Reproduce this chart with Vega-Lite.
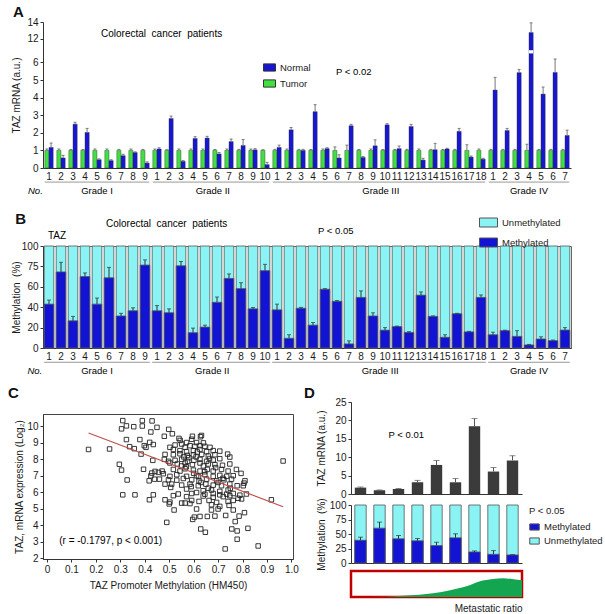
{
"$schema":"https://vega.github.io/schema/vega-lite/v6.json",
"background":"white",
"padding":{"left":8,"top":5,"right":5,"bottom":3},
"config":{"font":"Liberation Sans","view":{"stroke":null},
 "axis":{"grid":false,"labelOverlap":false,"labelFlush":false,"labelColor":"#1a1a1a","titleColor":"#1a1a1a","domainColor":"#333","tickColor":"#333","labelFontSize":10,"titleFontSize":10,"titleFontWeight":"normal"},
 "title":{"fontSize":15,"fontWeight":"bold","anchor":"start","frame":"bounds","color":"#111"},
 "legend":{"labelColor":"#1a1a1a","titleColor":"#1a1a1a"}},
"datasets":{
 "pa":[
  {"id":"01-1","tv":1,"th":1.08,"nv":1.17,"nh":1.42},{"id":"02-2","tv":1,"th":1.08,"nv":0.57,"nh":0.72},{"id":"03-3","tv":1,"th":1.05,"nv":2.49,"nh":2.6},{"id":"04-4","tv":1,"th":1.05,"nv":2.02,"nh":2.25},{"id":"05-5","tv":1,"th":1.08,"nv":0.47,"nh":0.52},{"id":"06-6","tv":1,"th":1.08,"nv":0.42,"nh":0.47},{"id":"07-7","tv":1,"th":1.06,"nv":0.7,"nh":0.78},{"id":"08-8","tv":1,"th":1.08,"nv":0.88,"nh":0.92},{"id":"09-9","tv":1,"th":1.06,"nv":0.28,"nh":0.35},
  {"id":"10-1","tv":1,"th":1.08,"nv":1.08,"nh":1.15},{"id":"11-2","tv":1,"th":1.04,"nv":2.81,"nh":2.95},{"id":"12-3","tv":1,"th":1.08,"nv":0.38,"nh":0.42},{"id":"13-4","tv":1,"th":1.08,"nv":1.68,"nh":1.78},{"id":"14-5","tv":1,"th":1.08,"nv":1.7,"nh":1.8},{"id":"15-6","tv":1,"th":1.05,"nv":0.8,"nh":0.88},{"id":"16-7","tv":1,"th":1.08,"nv":1.5,"nh":1.65},{"id":"17-8","tv":1,"th":1.06,"nv":1.28,"nh":1.62},{"id":"18-9","tv":1,"th":1.08,"nv":1.03,"nh":1.1},{"id":"19-10","tv":1,"th":1.04,"nv":0.19,"nh":0.32},
  {"id":"20-1","tv":1,"th":1.06,"nv":1.17,"nh":1.3},{"id":"21-2","tv":1,"th":1.08,"nv":2.17,"nh":2.3},{"id":"22-3","tv":1,"th":1.06,"nv":1.0,"nh":1.06},{"id":"23-4","tv":1,"th":1.05,"nv":3.2,"nh":3.6},{"id":"24-5","tv":1,"th":1.08,"nv":1.1,"nh":1.15},{"id":"25-6","tv":1,"th":1.2,"nv":0.57,"nh":0.75},{"id":"26-7","tv":1,"th":1.3,"nv":2.4,"nh":2.48},{"id":"27-8","tv":1,"th":1.05,"nv":0.6,"nh":0.65},{"id":"28-9","tv":1,"th":1.08,"nv":1.26,"nh":1.6},{"id":"29-10","tv":1,"th":1.05,"nv":2.45,"nh":2.52},{"id":"30-11","tv":1,"th":1.05,"nv":1.1,"nh":1.25},{"id":"31-12","tv":1,"th":1.06,"nv":2.36,"nh":2.48},{"id":"32-13","tv":1,"th":1.08,"nv":0.45,"nh":0.55},{"id":"33-14","tv":1,"th":1.06,"nv":1.04,"nh":1.4},{"id":"34-15","tv":1,"th":1.05,"nv":1.08,"nh":1.12},{"id":"35-16","tv":1,"th":1.06,"nv":2.08,"nh":2.25},{"id":"36-17","tv":1,"th":1.32,"nv":0.62,"nh":0.68},{"id":"37-18","tv":1,"th":1.08,"nv":0.5,"nh":0.55},
  {"id":"38-1","tv":1,"th":1.06,"nv":4.43,"nh":5.15},{"id":"39-2","tv":1,"th":1.06,"nv":2.13,"nh":2.25},{"id":"40-3","tv":1,"th":1.06,"nv":5.42,"nh":5.6},{"id":"41-4","tv":1,"th":1.35,"nv":12.75,"nh":13.9},{"id":"42-5","tv":1,"th":1.05,"nv":4.2,"nh":4.6},{"id":"43-6","tv":1,"th":1.06,"nv":5.43,"nh":6.2},{"id":"44-7","tv":1,"th":1.06,"nv":1.85,"nh":2.15}
 ],
 "pb":[
  {"id":"01-1","m":43,"mh":47},{"id":"02-2","m":74.6,"mh":84},{"id":"03-3","m":26.6,"mh":31},{"id":"04-4","m":70,"mh":73.6},{"id":"05-5","m":43,"mh":49},{"id":"06-6","m":68.8,"mh":79},{"id":"07-7","m":31.4,"mh":34},{"id":"08-8","m":36.5,"mh":39.4},{"id":"09-9","m":81.3,"mh":86.4},
  {"id":"10-1","m":36.5,"mh":41.6},{"id":"11-2","m":34.6,"mh":38.4},{"id":"12-3","m":80.6,"mh":84.8},{"id":"13-4","m":15,"mh":19.5},{"id":"14-5","m":20.5,"mh":22.4},{"id":"15-6","m":44.8,"mh":50},{"id":"16-7","m":68.2,"mh":72.6},{"id":"17-8","m":58.2,"mh":64},{"id":"18-9","m":38.4,"mh":39.7},{"id":"19-10","m":75.8,"mh":82},
  {"id":"20-1","m":37.4,"mh":43},{"id":"21-2","m":9.5,"mh":13},{"id":"22-3","m":39,"mh":39.8},{"id":"23-4","m":22.4,"mh":25},{"id":"24-5","m":57.6,"mh":58.2},{"id":"25-6","m":45.8,"mh":46.5},{"id":"26-7","m":4,"mh":7},{"id":"27-8","m":49.6,"mh":56},{"id":"28-9","m":31.4,"mh":34.5},{"id":"29-10","m":17.5,"mh":20},{"id":"30-11","m":21,"mh":21.5},{"id":"31-12","m":15.3,"mh":16},{"id":"32-13","m":51.8,"mh":55},{"id":"33-14","m":31,"mh":31.5},{"id":"34-15","m":10.5,"mh":13},{"id":"35-16","m":33.6,"mh":34},{"id":"36-17","m":15.8,"mh":16.3},{"id":"37-18","m":49.6,"mh":52},
  {"id":"38-1","m":13,"mh":15.5},{"id":"39-2","m":17,"mh":17.5},{"id":"40-3","m":11.4,"mh":17},{"id":"41-4","m":3,"mh":3.5},{"id":"42-5","m":8.8,"mh":11},{"id":"43-6","m":7.2,"mh":7.8},{"id":"44-7","m":17.6,"mh":20}
 ],
 "ga":[
  {"g":"Grade I","first":"01-1","last":"09-9","mid":"05-5","odd":1},
  {"g":"Grade II","first":"10-1","last":"19-10","mid":"15-6","odd":0},
  {"g":"Grade III","first":"20-1","last":"37-18","mid":"29-10","odd":0},
  {"g":"Grade IV","first":"38-1","last":"44-7","mid":"41-4","odd":1}
 ],
 "pc":[
  {"x":0.31,"y":10.35},{"x":0.39,"y":10.35},{"x":0.43,"y":10.33},{"x":0.325,"y":10.03},{"x":0.355,"y":9.98},{"x":0.39,"y":10.02},{"x":0.45,"y":9.94},{"x":0.305,"y":9.85},{"x":0.498,"y":9.82},{"x":0.513,"y":9.55},{"x":0.425,"y":9.66},{"x":0.48,"y":9.4},{"x":0.54,"y":9.27},{"x":0.632,"y":9.45},{"x":0.628,"y":9.37},{"x":0.595,"y":9.4},{"x":0.325,"y":9.2},{"x":0.38,"y":9.2},{"x":0.42,"y":9.03},{"x":0.435,"y":8.9},{"x":0.545,"y":9.15},{"x":0.551,"y":8.93},{"x":0.571,"y":9.02},{"x":0.592,"y":9.22},{"x":0.612,"y":9.02},{"x":0.64,"y":9.0},
  {"x":0.338,"y":8.77},{"x":0.357,"y":8.65},{"x":0.398,"y":8.83},{"x":0.405,"y":8.73},{"x":0.503,"y":8.73},{"x":0.524,"y":8.87},{"x":0.565,"y":8.73},{"x":0.585,"y":8.83},{"x":0.605,"y":8.79},{"x":0.626,"y":8.83},{"x":0.646,"y":8.79},{"x":0.667,"y":8.73},
  {"x":0.17,"y":8.6},{"x":0.256,"y":8.63},{"x":0.517,"y":8.6},{"x":0.544,"y":8.53},{"x":0.571,"y":8.47},{"x":0.599,"y":8.53},{"x":0.626,"y":8.6},{"x":0.653,"y":8.47},{"x":0.68,"y":8.53},{"x":0.707,"y":8.5},
  {"x":0.385,"y":8.32},{"x":0.483,"y":8.3},{"x":0.517,"y":8.28},{"x":0.544,"y":8.34},{"x":0.574,"y":8.24},{"x":0.599,"y":8.28},{"x":0.633,"y":8.3},{"x":0.66,"y":8.2},{"x":0.687,"y":8.28},{"x":0.739,"y":8.32},
  {"x":0.433,"y":7.94},{"x":0.48,"y":8.0},{"x":0.497,"y":7.88},{"x":0.524,"y":7.94},{"x":0.551,"y":8.0},{"x":0.575,"y":7.88},{"x":0.601,"y":7.94},{"x":0.626,"y":8.0},{"x":0.653,"y":7.88},{"x":0.68,"y":7.96},{"x":0.707,"y":8.04},{"x":0.748,"y":8.14},{"x":0.966,"y":7.9},
  {"x":0.296,"y":7.7},{"x":0.503,"y":7.78},{"x":0.533,"y":7.72},{"x":0.565,"y":7.78},{"x":0.595,"y":7.68},{"x":0.626,"y":7.78},{"x":0.66,"y":7.72},{"x":0.687,"y":7.68},{"x":0.718,"y":7.64},{"x":0.748,"y":7.72},
  {"x":0.305,"y":7.35},{"x":0.395,"y":7.4},{"x":0.471,"y":7.29},{"x":0.517,"y":7.39},{"x":0.544,"y":7.29},{"x":0.565,"y":7.43},{"x":0.599,"y":7.35},{"x":0.626,"y":7.29},{"x":0.656,"y":7.39},{"x":0.68,"y":7.29},{"x":0.714,"y":7.39},{"x":0.741,"y":7.29},{"x":0.775,"y":7.39},
  {"x":0.429,"y":7.17},{"x":0.442,"y":7.27},{"x":0.456,"y":7.21},{"x":0.476,"y":7.13},{"x":0.503,"y":6.97},{"x":0.531,"y":7.07},{"x":0.571,"y":6.97},{"x":0.612,"y":7.01},{"x":0.646,"y":7.07},{"x":0.68,"y":6.97},{"x":0.707,"y":7.03},{"x":0.735,"y":6.97},{"x":0.762,"y":7.01},{"x":0.794,"y":7.15},
  {"x":0.328,"y":6.75},{"x":0.425,"y":7.0},{"x":0.44,"y":6.8},{"x":0.46,"y":6.8},{"x":0.497,"y":6.76},{"x":0.531,"y":6.74},{"x":0.558,"y":6.84},{"x":0.592,"y":6.76},{"x":0.622,"y":6.7},{"x":0.653,"y":6.8},{"x":0.694,"y":6.7},{"x":0.724,"y":6.76},{"x":0.755,"y":6.8},{"x":0.81,"y":6.7},
  {"x":0.418,"y":6.7},{"x":0.483,"y":6.5},{"x":0.51,"y":6.5},{"x":0.551,"y":6.44},{"x":0.585,"y":6.5},{"x":0.619,"y":6.4},{"x":0.65,"y":6.5},{"x":0.68,"y":6.44},{"x":0.714,"y":6.4},{"x":0.748,"y":6.5},{"x":0.778,"y":6.4},{"x":0.806,"y":6.56},
  {"x":0.506,"y":6.3},{"x":0.571,"y":6.2},{"x":0.639,"y":6.1},{"x":0.673,"y":6.14},{"x":0.707,"y":6.06},{"x":0.741,"y":6.14},{"x":0.803,"y":6.4},
  {"x":0.592,"y":5.93},{"x":0.612,"y":5.99},{"x":0.646,"y":5.89},{"x":0.68,"y":5.93},{"x":0.707,"y":5.85},{"x":0.735,"y":5.89},{"x":0.762,"y":5.93},{"x":0.789,"y":5.83},
  {"x":0.31,"y":5.85},{"x":0.36,"y":5.85},{"x":0.419,"y":5.55},{"x":0.435,"y":5.85},{"x":0.517,"y":5.8},{"x":0.537,"y":5.9},{"x":0.571,"y":5.74},{"x":0.639,"y":5.78},{"x":0.68,"y":5.7},{"x":0.721,"y":5.74},{"x":0.748,"y":5.8},{"x":0.782,"y":5.64},{"x":0.816,"y":5.9},
  {"x":0.483,"y":5.55},{"x":0.503,"y":5.41},{"x":0.551,"y":5.35},{"x":0.565,"y":5.35},{"x":0.592,"y":5.51},{"x":0.622,"y":5.45},{"x":0.663,"y":5.51},{"x":0.694,"y":5.39},{"x":0.741,"y":5.45},{"x":0.762,"y":5.51},{"x":0.796,"y":5.6},{"x":0.918,"y":5.55},
  {"x":0.5,"y":5.3},{"x":0.585,"y":5.32},{"x":0.673,"y":5.25},{"x":0.707,"y":5.15},{"x":0.745,"y":5.21},
  {"x":0.52,"y":4.93},{"x":0.612,"y":4.99},{"x":0.673,"y":4.93},{"x":0.7,"y":4.99},{"x":0.762,"y":4.93},
  {"x":0.603,"y":4.5},{"x":0.626,"y":4.54},{"x":0.656,"y":4.54},{"x":0.687,"y":4.56},{"x":0.731,"y":4.6},{"x":0.786,"y":4.56},{"x":0.808,"y":4.77},
  {"x":0.596,"y":4.36},{"x":0.49,"y":4.18},{"x":0.77,"y":4.23},
  {"x":0.629,"y":3.78},{"x":0.756,"y":3.78},{"x":0.822,"y":3.82},{"x":0.648,"y":3.58},{"x":0.778,"y":3.66},{"x":0.778,"y":3.16},{"x":0.729,"y":2.57},{"x":0.864,"y":2.75},
  {"x":0.58,"y":8.1},{"x":0.61,"y":8.15},{"x":0.64,"y":7.6},{"x":0.57,"y":7.55},{"x":0.6,"y":7.15},{"x":0.63,"y":6.6},{"x":0.66,"y":6.25},{"x":0.69,"y":7.5},{"x":0.72,"y":6.85},{"x":0.55,"y":7.6},{"x":0.62,"y":6.95},{"x":0.665,"y":8.05},{"x":0.59,"y":6.35},{"x":0.7,"y":6.6},{"x":0.75,"y":6.25},{"x":0.56,"y":8.15},{"x":0.615,"y":8.45},{"x":0.645,"y":7.25}
 ],
 "fit":[{"x":0.17,"y":9.6},{"x":0.966,"y":5.13}],
 "pd":[
  {"k":1,"e":1.73,"eh":1.9,"m":39.3,"mh":44.5},{"k":2,"e":1.0,"eh":1.1,"m":60.1,"mh":70.5},{"k":3,"e":1.36,"eh":1.5,"m":41.6,"mh":47.4},{"k":4,"e":3.18,"eh":3.7,"m":38.2,"mh":42.2},{"k":5,"e":7.9,"eh":9.1,"m":30,"mh":35.8},{"k":6,"e":3.18,"eh":4.2,"m":43.4,"mh":50.3},{"k":7,"e":18.4,"eh":20.5,"m":19,"mh":20.8},{"k":8,"e":6.1,"eh":7.2,"m":15,"mh":21.4},{"k":9,"e":9.1,"eh":10.4,"m":13.9,"mh":14.5}
 ],
 "ar":[{"r":0,"h":0},{"r":0.2,"h":0.01},{"r":0.3,"h":0.05},{"r":0.4,"h":0.09},{"r":0.48,"h":0.14},{"r":0.58,"h":0.26},{"r":0.68,"h":0.42},{"r":0.75,"h":0.6},{"r":0.83,"h":0.69},{"r":0.89,"h":0.72},{"r":0.95,"h":0.68},{"r":1.0,"h":0.64}]
},
"spacing":10,
"resolve":{"scale":{"color":"independent"},"legend":{"color":"independent"}},
"vconcat":[
 {"spacing":15,"resolve":{"scale":{"color":"independent"},"legend":{"color":"independent"}},
  "vconcat":[
   {"title":{"text":"A","offset":-3,"dx":1},
    "width":528,"height":146,
    "data":{"name":"pa"},
    "encoding":{"x":{"field":"id","type":"nominal","title":null,"scale":{"paddingInner":0.3,"paddingOuter":0.15},"axis":{"labelExpr":"split(datum.value,'-')[1]","labelAngle":0,"ticks":false,"labelPadding":3,"labelFontSize":10,"labelOverlap":false}}},
    "layer":[
     {"mark":{"type":"bar","stroke":"#333","strokeWidth":0.4},"encoding":{"xOffset":{"datum":"Tumor","scale":{"domain":["Tumor","Normal"]}},"y":{"field":"tv","type":"quantitative","title":"TAZ mRNA (a.u.)","scale":{"domain":[0,6.5,10.28,14],"range":[146,31.6,31.6,0],"zero":false,"nice":false},"axis":{"values":[0,1,2,3,4,5,6,12,14],"format":"d","tickCount":50,"labelOverlap":false,"tickSize":3,"labelPadding":2,"titlePadding":5}},"color":{"datum":"Tumor","scale":{"domain":["Normal","Tumor"],"range":["#1616d4","#3fe03f"]},"legend":{"orient":"none","legendX":220,"legendY":39,"title":null,"symbolType":"M-1,-0.6H1V0.6H-1Z","symbolSize":144,"symbolStrokeColor":"#222","symbolStrokeWidth":1,"labelFontSize":9.5,"rowPadding":3}}}},
     {"mark":{"type":"bar","stroke":"#333","strokeWidth":0.4},"encoding":{"xOffset":{"datum":"Normal"},"y":{"field":"nv","type":"quantitative","title":"TAZ mRNA (a.u.)"},"color":{"datum":"Normal"}}},
     {"mark":{"type":"rule","color":"#777"},"encoding":{"xOffset":{"datum":"Tumor"},"y":{"field":"tv","type":"quantitative","title":"TAZ mRNA (a.u.)"},"y2":{"field":"th"}}},
     {"mark":{"type":"rule","color":"#777"},"encoding":{"xOffset":{"datum":"Normal"},"y":{"field":"nv","type":"quantitative","title":"TAZ mRNA (a.u.)"},"y2":{"field":"nh"}}},
     {"mark":{"type":"tick","color":"#555","size":3,"thickness":1},"encoding":{"xOffset":{"datum":"Tumor"},"y":{"field":"th","type":"quantitative","title":"TAZ mRNA (a.u.)"}}},
     {"mark":{"type":"tick","color":"#555","size":3,"thickness":1},"encoding":{"xOffset":{"datum":"Normal"},"y":{"field":"nh","type":"quantitative","title":"TAZ mRNA (a.u.)"}}},
     {"data":{"values":[{}]},"mark":{"type":"bar","color":"white"},"encoding":{"x":{"datum":"41-4"},"xOffset":{"datum":"Normal"},"y":{"datum":10.3},"y2":{"datum":10.68}}},
     {"data":{"values":[{}]},"mark":{"type":"text","align":"left","baseline":"middle","fontSize":10,"dx":-8},"encoding":{"x":{"datum":"06-6"},"y":{"datum":12.6},"text":{"value":"Colorectal\u00a0 cancer\u00a0 patients"}}},
     {"data":{"values":[{}]},"mark":{"type":"text","align":"left","baseline":"middle","fontSize":9.5,"dx":-1},"encoding":{"x":{"datum":"25-6"},"y":{"datum":5.45},"text":{"value":"P < 0.02"}}},
     {"data":{"name":"ga"},"mark":{"type":"rule","color":"#999","strokeWidth":1},"encoding":{"x":{"field":"first","type":"nominal","bandPosition":0,"title":null},"x2":{"field":"last","bandPosition":1},"y":{"datum":-0.8}}},
     {"data":{"name":"ga"},"transform":[{"filter":"datum.odd==1"}],"mark":{"type":"text","fontSize":9.5,"baseline":"middle"},"encoding":{"x":{"field":"mid","type":"nominal","title":null},"y":{"datum":-1.3},"text":{"field":"g"}}},
     {"data":{"name":"ga"},"transform":[{"filter":"datum.odd==0"}],"mark":{"type":"text","fontSize":9.5,"baseline":"middle"},"encoding":{"x":{"field":"mid","type":"nominal","bandPosition":0,"title":null},"y":{"datum":-1.3},"text":{"field":"g"}}},
     {"data":{"values":[{}]},"mark":{"type":"text","fontSize":9.5,"fontStyle":"italic","align":"right","baseline":"middle","dx":-2},"encoding":{"x":{"datum":"01-1","bandPosition":0},"y":{"datum":-1.3},"text":{"value":"No."}}}
    ]},
   {"title":{"text":"B","offset":-14,"dx":4},
    "width":528,"height":102,
    "view":{"stroke":"#666"},
    "data":{"name":"pb"},
    "encoding":{"x":{"field":"id","type":"nominal","title":null,"scale":{"paddingInner":0.2,"paddingOuter":0.1},"axis":{"labelExpr":"split(datum.value,'-')[1]","labelAngle":0,"ticks":false,"labelPadding":3,"labelFontSize":10,"labelOverlap":false}}},
    "layer":[
     {"mark":{"type":"bar","stroke":"#555","strokeWidth":0.8},"encoding":{"y":{"datum":100,"type":"quantitative","title":"Methylation\u00a0 (%)","scale":{"domain":[0,100],"nice":false},"axis":{"values":[0,20,40,60,80,100],"format":"d","tickCount":50,"labelOverlap":false,"labelExpr":"datum.value==80?'75':datum.label","tickSize":3,"labelPadding":2,"titlePadding":0}},"color":{"datum":"Unmethylated","scale":{"domain":["Unmethylated","Methylated"],"range":["#8af3f3","#1313d3"]},"legend":{"orient":"none","legendX":436,"legendY":-33,"title":null,"symbolType":"M-1,-0.5H1V0.5H-1Z","symbolSize":324,"symbolStrokeColor":"#222","symbolStrokeWidth":1,"labelFontSize":9.5,"rowPadding":4}}}},
     {"mark":{"type":"bar","stroke":"#555","strokeWidth":0.8},"encoding":{"y":{"field":"m","type":"quantitative","title":"Methylation\u00a0 (%)"},"color":{"datum":"Methylated"}}},
     {"mark":{"type":"rule","color":"#333"},"encoding":{"y":{"field":"m","type":"quantitative","title":"Methylation\u00a0 (%)"},"y2":{"field":"mh"}}},
     {"mark":{"type":"tick","color":"#333","size":4,"thickness":1},"encoding":{"y":{"field":"mh","type":"quantitative","title":"Methylation\u00a0 (%)"}}},
     {"data":{"values":[{}]},"mark":{"type":"text","align":"left","baseline":"middle","fontSize":10,"dx":-3},"encoding":{"x":{"datum":"06-6"},"y":{"datum":121.6},"text":{"value":"Colorectal\u00a0 cancer\u00a0 patients"}}},
     {"data":{"values":[{}]},"mark":{"type":"text","align":"left","baseline":"middle","fontSize":10,"dx":-1},"encoding":{"x":{"datum":"01-1"},"y":{"datum":109.8},"text":{"value":"TAZ"}}},
     {"data":{"values":[{}]},"mark":{"type":"text","align":"left","baseline":"middle","fontSize":9.5,"dx":5},"encoding":{"x":{"datum":"23-4"},"y":{"datum":114.7},"text":{"value":"P < 0.05"}}},
     {"data":{"name":"ga"},"mark":{"type":"rule","color":"#999","strokeWidth":1},"encoding":{"x":{"field":"first","type":"nominal","bandPosition":0,"title":null},"x2":{"field":"last","bandPosition":1},"y":{"datum":-14}}},
     {"data":{"name":"ga"},"transform":[{"filter":"datum.odd==1"}],"mark":{"type":"text","fontSize":9.5,"baseline":"middle"},"encoding":{"x":{"field":"mid","type":"nominal","title":null},"y":{"datum":-22.5},"text":{"field":"g"}}},
     {"data":{"name":"ga"},"transform":[{"filter":"datum.odd==0"}],"mark":{"type":"text","fontSize":9.5,"baseline":"middle"},"encoding":{"x":{"field":"mid","type":"nominal","bandPosition":0,"title":null},"y":{"datum":-22.5},"text":{"field":"g"}}},
     {"data":{"values":[{}]},"mark":{"type":"text","fontSize":9.5,"fontStyle":"italic","align":"right","baseline":"middle","dx":-2},"encoding":{"x":{"datum":"01-1","bandPosition":0},"y":{"datum":-22.5},"text":{"value":"No."}}}
    ]}
  ]},
 {"spacing":4,"resolve":{"scale":{"color":"independent"},"legend":{"color":"independent"}},
  "hconcat":[
   {"spacing":10,
    "vconcat":[
    {"title":{"text":"C","offset":1,"dx":-35},"width":1,"height":1,"data":{"values":[]},"mark":"point"},
    {"width":250,"height":145,
     "view":{"stroke":"#444"},
     "layer":[
      {"data":{"name":"pc"},"mark":{"type":"point","shape":"square","filled":false,"size":20,"color":"#222","strokeWidth":0.9,"opacity":1},
       "encoding":{"x":{"field":"x","type":"quantitative","title":"TAZ Promoter Methylation (HM450)","scale":{"domain":[-0.0163,1.0065],"nice":false,"zero":false},"axis":{"values":[0,0.1,0.2,0.3,0.4,0.5,0.6,0.7,0.8,0.9,1],"tickCount":50,"labelOverlap":false,"labelExpr":"datum.value==0?'0':format(datum.value,'.1f')","tickSize":3,"labelPadding":2,"titlePadding":6}},
        "y":{"field":"y","type":"quantitative","title":"TAZ, mRNA expression (Log\u2082)","scale":{"domain":[1.96,10.75],"nice":false,"zero":false},"axis":{"values":[2,3,4,5,6,7,8,9,10],"format":"d","tickCount":50,"labelOverlap":false,"tickSize":3,"labelPadding":2,"titlePadding":2}}}},
      {"data":{"name":"fit"},"mark":{"type":"line","color":"#c0504d","strokeWidth":1.2},"encoding":{"x":{"field":"x","type":"quantitative","title":"TAZ Promoter Methylation (HM450)"},"y":{"field":"y","type":"quantitative","title":"TAZ, mRNA expression (Log\u2082)"}}},
      {"data":{"values":[{}]},"mark":{"type":"text","align":"left","baseline":"middle","fontSize":10},"encoding":{"x":{"datum":0.05},"y":{"datum":3.07},"text":{"value":"(r = -0.1797, p < 0.001)"}}}
     ]}
   ]},
   {"spacing":-2,"resolve":{"scale":{"color":"independent"},"legend":{"color":"independent"}},
    "vconcat":[
     {"title":{"text":"D","offset":-4,"dx":-13},
      "width":171,"height":92,
      "data":{"name":"pd"},
      "encoding":{"x":{"field":"k","type":"ordinal","title":null,"scale":{"paddingInner":0.4,"paddingOuter":0.2},"axis":{"labels":false,"ticks":false,"title":null}}},
      "layer":[
       {"mark":{"type":"bar","color":"#3b3b3b"},"encoding":{"y":{"field":"e","type":"quantitative","title":"TAZ mRNA (a.u.)","scale":{"domain":[0,25],"nice":false},"axis":{"values":[0,5,10,15,20,25],"format":"d","tickCount":50,"labelOverlap":false,"tickSize":3,"labelPadding":2,"titlePadding":8}}}},
       {"mark":{"type":"rule","color":"#555"},"encoding":{"y":{"field":"e","type":"quantitative","title":"TAZ mRNA (a.u.)"},"y2":{"field":"eh"}}},
       {"mark":{"type":"tick","color":"#555","size":6,"thickness":1},"encoding":{"y":{"field":"eh","type":"quantitative","title":"TAZ mRNA (a.u.)"}}},
       {"data":{"values":[{}]},"mark":{"type":"text","align":"left","baseline":"middle","fontSize":9.5,"dx":-10},"encoding":{"x":{"datum":3,"type":"ordinal"},"y":{"datum":16},"text":{"value":"P < 0.01"}}}
      ]},
     {"spacing":-10,
      "vconcat":[
      {"width":171,"height":58,
       "data":{"name":"pd"},
       "encoding":{"x":{"field":"k","type":"ordinal","title":null,"scale":{"paddingInner":0.4,"paddingOuter":0.2},"axis":{"labels":false,"ticks":false,"title":null}}},
       "layer":[
        {"mark":{"type":"bar","stroke":"#555","strokeWidth":0.8},"encoding":{"y":{"datum":100,"type":"quantitative","title":"Methylation\u00a0 (%)","scale":{"domain":[0,100],"nice":false},"axis":{"values":[0,25,50,75,100],"format":"d","tickCount":50,"labelOverlap":false,"tickSize":3,"labelPadding":2,"titlePadding":3}},"color":{"datum":"Unmethylated","scale":{"domain":["Methylated","Unmethylated"],"range":["#1313d3","#8af3f3"]},"legend":{"orient":"none","legendX":178,"legendY":1,"title":"P < 0.05","titleFontSize":9.5,"titleFontWeight":"normal","titlePadding":6,"symbolType":"M-1,-0.65H1V0.65H-1Z","symbolSize":90,"symbolStrokeColor":"#222","symbolStrokeWidth":1,"labelFontSize":9.5,"rowPadding":3}}}},
        {"mark":{"type":"bar","stroke":"#555","strokeWidth":0.8},"encoding":{"y":{"field":"m","type":"quantitative","title":"Methylation\u00a0 (%)"},"color":{"datum":"Methylated"}}},
        {"mark":{"type":"rule","color":"#333"},"encoding":{"y":{"field":"m","type":"quantitative","title":"Methylation\u00a0 (%)"},"y2":{"field":"mh"}}},
        {"mark":{"type":"tick","color":"#333","size":5,"thickness":1},"encoding":{"y":{"field":"mh","type":"quantitative","title":"Methylation\u00a0 (%)"}}}
       ]},
      {"width":171,"height":26,
       "view":{"stroke":"#c00000","strokeWidth":2.5},
       "data":{"name":"ar"},
       "mark":{"type":"area","color":"#14a550","interpolate":"monotone"},
       "encoding":{"x":{"field":"r","type":"quantitative","scale":{"domain":[0,1],"nice":false},"axis":{"title":"Metastatic ratio","labels":false,"ticks":false,"domain":false,"titleAnchor":"end","titleFontSize":10,"titlePadding":6}},
        "y":{"field":"h","type":"quantitative","scale":{"domain":[0,1],"nice":false},"axis":null}}}
     ]}
    ]}
  ]}
]
}
